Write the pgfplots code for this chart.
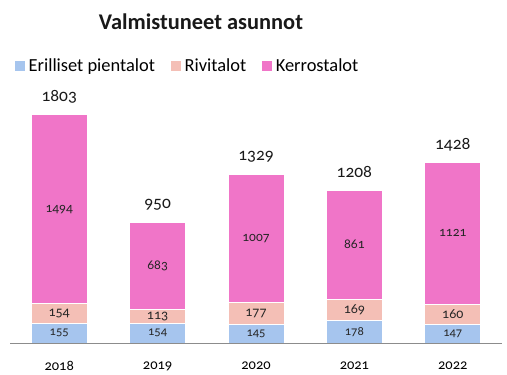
\documentclass[border=0pt]{standalone}
\usepackage{fontspec}
\setmainfont{Carlito}[Numbers=OldStyle]
\usepackage{pgfplots}
\usepackage{pgfplotstable}
\pgfplotsset{compat=1.18}
\definecolor{cBlue}{HTML}{A6C5EE}
\definecolor{cRose}{HTML}{F4BFB6}
\definecolor{cPink}{HTML}{F075C8}

\pgfplotstableread{
x ep ri ke tot
0 155 154 1494 1803
1 154 113 683 950
2 145 177 1007 1329
3 178 169 861 1208
4 147 160 1121 1428
}\datatable

\pgfplotstableread{
x m1 m2 m3 ep ri ke
0 77.5 232 1056 155 154 1494
1 77 210.5 608.5 154 113 683
2 72.5 233.5 825.5 145 177 1007
3 89 262.5 777.5 178 169 861
4 73.5 227 867.5 147 160 1121
}\midtable

\pgfplotsset{base/.style={scale only axis, width=492bp, height=303.5bp,
  xmin=-0.5, xmax=4.5, ymin=0, ymax=2400, at={(10bp,32bp)}, anchor=south west}}

\begin{document}
\begin{tikzpicture}
\path[use as bounding box] (0,0) rectangle (507bp,375bp);
\begin{axis}[base, ybar stacked, bar width=56bp,
  axis y line=none, axis x line*=bottom,
  x axis line style={draw=black!45, line width=0.8pt, -},
  xtick={0,1,2,3,4}, xticklabels={2018,2019,2020,2021,2022},
  major tick length=0,
  xticklabel style={font=\fontsize{14.5}{16}\selectfont, yshift=-15bp},
  legend columns=3,
  legend style={draw=none, fill=none, at={(0.004,0.913)}, anchor=west,
    font=\fontsize{18.5}{21}\selectfont,
    /tikz/every even column/.append style={column sep=14bp},
    /tikz/every odd column/.append style={column sep=1.5bp}},
  ]
\addplot[fill=cBlue, draw=white, line width=1bp,
  legend image code/.code={\fill[cBlue] (0bp,-4.5bp) rectangle (9bp,4.5bp);}]
  table[x=x, y=ep] \datatable;
\addplot[fill=cRose, draw=white, line width=1bp,
  legend image code/.code={\fill[cRose] (0bp,-4.5bp) rectangle (9bp,4.5bp);}]
  table[x=x, y=ri] \datatable;
\addplot[fill=cPink, draw=white, line width=1bp,
  legend image code/.code={\fill[cPink] (0bp,-4.5bp) rectangle (9bp,4.5bp);}]
  table[x=x, y=ke] \datatable;
\legend{Erilliset pientalot, Rivitalot, Kerrostalot}
\end{axis}
\begin{axis}[base, hide axis]
\addplot[draw=none, mark=none, nodes near coords, point meta=explicit symbolic,
  nodes near coords style={anchor=center, font=\fontsize{12.5}{14}\selectfont, text=black!85}]
  table[x=x, y=m1, meta=ep] \midtable;
\addplot[draw=none, mark=none, nodes near coords, point meta=explicit symbolic,
  nodes near coords style={anchor=center, font=\fontsize{14}{15}\selectfont, text=black!85}]
  table[x=x, y=m2, meta=ri] \midtable;
\addplot[draw=none, mark=none, nodes near coords, point meta=explicit symbolic,
  nodes near coords style={anchor=center, font=\fontsize{13.5}{15}\selectfont, text=black!85}]
  table[x=x, y=m3, meta=ke] \midtable;
\addplot[draw=none, mark=none, nodes near coords, point meta=explicit symbolic,
  nodes near coords style={anchor=center, yshift=18bp, font=\fontsize{17.5}{19}\selectfont, text=black!90}]
  table[x=x, y=tot, meta=tot] \datatable;
\end{axis}
\node[font=\bfseries\fontsize{22.5}{24}\selectfont, text=black!90] at (201bp,353bp) {Valmistuneet asunnot};
\end{tikzpicture}
\end{document}
